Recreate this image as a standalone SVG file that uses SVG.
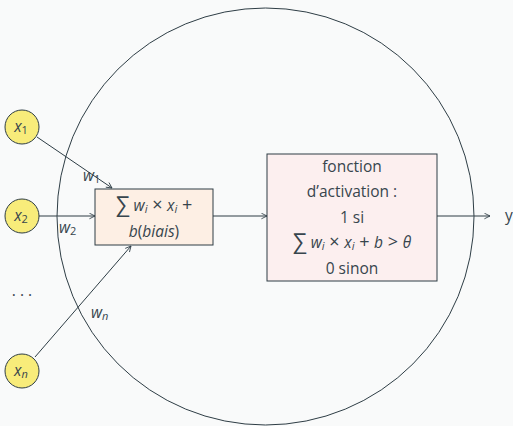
<svg xmlns="http://www.w3.org/2000/svg" width="513" height="426" viewBox="0 0 513 426">
<defs>
<style>
text{font-family:"Open Sans","DejaVu Sans",sans-serif;fill:#37454d;font-size:15.5px}
.m{font-style:italic}
.c{text-anchor:middle}
.s{font-size:11px}
.o{font-size:18px}
.ln{stroke:#2e3d45;stroke-width:1;fill:none}
.in{fill:#f8ec7a;stroke:#2e3d45;stroke-width:1}
</style>
<marker id="ar" viewBox="0 0 10 10" refX="9" refY="5" markerWidth="7" markerHeight="7" orient="auto" markerUnits="userSpaceOnUse">
<path d="M1,1 L9,5 L1,9" fill="none" stroke="#2e3d45" stroke-width="1.2"/>
</marker>
</defs>
<rect width="513" height="426" fill="#f9fafa"/>
<g id="neuron"><circle cx="265.5" cy="216.5" r="208.5" class="ln"/></g>
<g id="connectors">
<line x1="37" y1="137" x2="112" y2="188" class="ln" marker-end="url(#ar)"/>
<line x1="39" y1="216" x2="95" y2="216" class="ln" marker-end="url(#ar)"/>
<line x1="35" y1="357" x2="131" y2="246" class="ln" marker-end="url(#ar)"/>
<line x1="213" y1="216" x2="267" y2="216" class="ln" marker-end="url(#ar)"/>
<line x1="437" y1="216" x2="490" y2="216" class="ln" marker-end="url(#ar)"/>
<text x="83" y="181" class="m">w<tspan class="s" dy="2" font-style="normal">1</tspan></text>
<text x="59" y="233" class="m">w<tspan class="s" dy="2" font-style="normal">2</tspan></text>
<text x="91" y="318" class="m">w<tspan class="s" dy="2">n</tspan></text>
</g>
<g id="x1"><circle cx="22" cy="127" r="17" class="in"/><text x="21" y="132" class="m c">x<tspan class="s" dy="2" font-style="normal">1</tspan></text></g>
<g id="x2"><circle cx="22" cy="216" r="17" class="in"/><text x="21" y="221" class="m c">x<tspan class="s" dy="2" font-style="normal">2</tspan></text></g>
<g id="dots"><text x="22" y="296" class="c">. . .</text></g>
<g id="xn"><circle cx="22" cy="371" r="17" class="in"/><text x="21" y="376" class="m c">x<tspan class="s" dy="2">n</tspan></text></g>
<g id="sum">
<rect x="95" y="189" width="118" height="56" fill="#fdefe4" stroke="#2e3d45"/>
<text x="154" y="211" class="c"><tspan font-size="22" dy="1">∑</tspan><tspan class="m" dy="-1"> w</tspan><tspan class="m s" dy="2">i</tspan><tspan class="o" dy="-2"> × </tspan><tspan class="m">x</tspan><tspan class="m s" dy="2">i</tspan><tspan class="o" dy="-2"> +</tspan></text>
<text x="154" y="237" class="c"><tspan class="m">b</tspan>(<tspan class="m">biais</tspan>)</text>
</g>
<g id="activation">
<rect x="267" y="154" width="170" height="127" fill="#fcefef" stroke="#2e3d45"/>
<text x="352" y="172" class="c">fonction</text>
<text x="352" y="197" class="c">d’activation :</text>
<text x="352" y="223" class="c">1 si</text>
<text x="352" y="248" class="c"><tspan font-size="22" dy="1">∑</tspan><tspan class="m" dy="-1"> w</tspan><tspan class="m s" dy="2">i</tspan><tspan class="o" dy="-2"> × </tspan><tspan class="m">x</tspan><tspan class="m s" dy="2">i</tspan><tspan class="o" dy="-2"> + </tspan><tspan class="m">b</tspan><tspan class="o"> &gt; </tspan><tspan class="m">θ</tspan></text>
<text x="352" y="274" class="c">0 sinon</text>
</g>
<g id="y"><text x="505" y="221">y</text></g>
</svg>
